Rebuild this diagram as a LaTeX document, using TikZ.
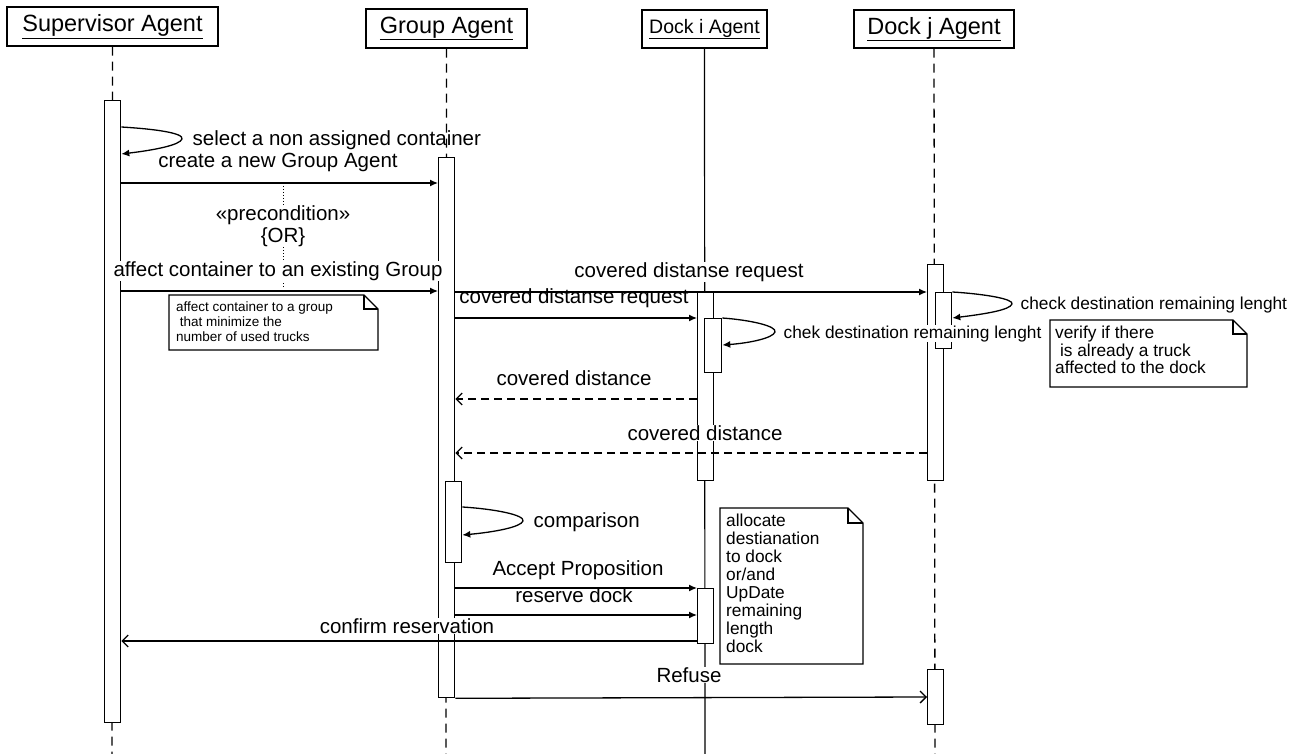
\documentclass[tikz,border=0pt]{standalone}
\usepackage{fontspec}
\setmainfont{Liberation Sans}
\usetikzlibrary{arrows.meta}
\newcommand{\hdfont}{\fontsize{23.5}{26}\selectfont}
\newcommand{\hdsmall}{\fontsize{19.5}{22}\selectfont}
\newcommand{\msgfont}{\fontsize{20.5}{24}\selectfont}
\newcommand{\lblfont}{\fontsize{17.3}{20}\selectfont}
\newcommand{\notefontA}{\fontsize{13.5}{14.6}\selectfont}
\newcommand{\notefontB}{\fontsize{17.3}{17.6}\selectfont}
\newcommand{\notefontC}{\fontsize{17.3}{18}\selectfont}
\begin{document}
\begin{tikzpicture}[x=1pt,y=-1pt,
  head/.style={draw, line width=1.4pt, inner sep=0pt, fill=white},
  act/.style={draw, fill=white, line width=1.3pt, inner sep=0pt, minimum width=16pt, anchor=north west},
  msg/.style={font=\msgfont, inner sep=0.5pt, anchor=base, fill=white},
  msgclear/.style={font=\msgfont, inner sep=0.5pt, anchor=base},
  lbl/.style={font=\lblfont, inner sep=0.5pt, anchor=base west, fill=white},
  call/.style={line width=1.3pt, -{Latex[length=8pt,width=7pt]}},
  ret/.style={line width=1.3pt, dash pattern=on 8pt off 5pt, -{Straight Barb[length=6pt,width=12pt]}},
  reply/.style={line width=1.3pt, -{Straight Barb[length=6pt,width=12pt]}},
  life/.style={line width=1.3pt, dash pattern=on 9pt off 6pt},
  solidlife/.style={line width=1.2pt},
  notebox/.style={line width=1.3pt, fill=white},
  notetext/.style={inner sep=0pt, anchor=north west, align=left}
]
\useasboundingbox (0,0) rectangle (1298,754);

% headers
\node[head, minimum width=211pt, minimum height=39pt] (hS) at (112.5,26.5) {\hdfont\underline{Supervisor Agent}};
\node[head, minimum width=161pt, minimum height=39pt] (hG) at (446.5,28.5) {\hdfont\underline{Group Agent}};
\node[head, minimum width=125pt, minimum height=38pt] (hI) at (704.5,29) {\hdsmall\underline{Dock i Agent}};
\node[head, minimum width=160pt, minimum height=38pt] (hJ) at (934,29) {\hdfont\underline{Dock j Agent}};

% lifeline ends
\coordinate (eS) at (112,754);
\coordinate (eG) at (446,754);
\coordinate (eI) at (705,754);
\coordinate (eJ) at (935,754);

% lifelines
\draw[life] (hS.south) -- (eS);
\draw[life] (hG.south) -- (eG);
\draw[solidlife] (hI.south) -- (eI);
\draw[life] (hJ.south) -- (eJ);

% activations
\node[act, minimum height=622pt] (actS) at (104,100) {};
\node[act, minimum height=540pt] (actG) at (438,157) {};
\node[act, minimum height=81pt] (actGn) at (445,481) {};
\node[act, minimum height=189pt] (actI) at (697,291) {};
\node[act, minimum height=54pt, minimum width=17pt] (actIn) at (704,318) {};
\node[act, minimum height=216pt] (actJ) at (927,264) {};
\node[act, minimum height=56pt] (actJn) at (935,292) {};
\node[act, minimum height=55pt] (actI2) at (697,588) {};
\node[act, minimum height=55pt] (actJ2) at (927,669) {};

% self messages
\draw[call] (actS.east |- 0,127) .. controls (155,129) and (184,133) .. (182,139)
   .. controls (180,145) and (155,150) .. (actS.east |- 0,154);
\draw[call] (actIn.east |- 0,318) .. controls (750,320) and (777,326) .. (775,332)
   .. controls (773,338) and (750,343) .. (actIn.east |- 0,345);
\draw[call] (actJn.east |- 0,292) .. controls (985,294) and (1014,299) .. (1012,304)
   .. controls (1010,310) and (985,314) .. (actJn.east |- 0,318);
\draw[call] (actGn.east |- 0,507) .. controls (495,509) and (525,515) .. (523,521)
   .. controls (521,527) and (495,532) .. (actGn.east |- 0,535);

% messages
\draw[call] (actS.east |- 0,183) -- (actG.west |- 0,183);
\draw[call] (actS.east |- 0,291) -- (actG.west |- 0,291);
\draw[call] (actG.east |- 0,292) -- (actJ.west |- 0,292);
\draw[call] (actG.east |- 0,318) -- (actI.west |- 0,318);
\draw[ret] (actI.west |- 0,399) -- (actG.east |- 0,399);
\draw[ret] (actJ.west |- 0,453) -- (actG.east |- 0,453);
\draw[call] (actG.east |- 0,588) -- (actI2.north west);
\draw[call] (actG.east |- 0,615) -- (actI2.west |- 0,615);
\draw[reply] (actI2.west |- 0,641) -- (actS.east |- 0,641);
\draw[reply] (actG.south east) -- (actJ2.west |- 0,697);

% precondition
\coordinate (d1) at (283,186);
\coordinate (d2) at (283,288);
\node[font=\msgfont, inner sep=0pt, anchor=base] (pre) at (283,220) {«precondition»};
\node[font=\msgfont, inner sep=0pt, anchor=base] (orn) at (283,243) {\{OR\}};
\draw[line width=1pt, dotted] (d1) -- (pre.north);
\draw[line width=1pt, dotted] (orn.south) -- (d2);

% labels
\node[font=\msgfont, inner sep=0.5pt, anchor=base west] (l1) at (192,146) {select a non assigned container};
\node[msg] (l2) at (278,168) {create a new Group Agent};
\node[msg] (l3) at (278,276) {affect container to an existing Group};
\node[msg] (l4) at (689,277) {covered distanse request};
\node[msgclear] (l5) at (574,303) {covered distanse request};
\node[lbl] (l6) at (783,338) {chek destination remaining lenght};
\node[lbl] (l7) at (1020,309) {check destination remaining lenght};
\node[msg] (l8) at (574,385) {covered distance};
\node[msg] (l9) at (705,440) {covered distance};
\node[font=\msgfont, inner sep=0.5pt, anchor=base west] (l10) at (533,527) {comparison};
\node[msg] (l11) at (578,575) {Accept Proposition};
\node[msgclear] (l12) at (574,602) {reserve dock};
\node[msg] (l13) at (407,633) {confirm reservation};
\node[msg] (l14) at (689,682) {Refuse};

% notes
\draw[notebox] (169,295) -- (364,295) -- (378,309) -- (378,350) -- (169,350) -- cycle;
\draw[line width=1.3pt] (364,295) -- (364,309) -- (378,309);
\node[notetext, font=\notefontA] (n1) at (176,302) {affect container to a group\\\ that minimize the\\number of used trucks};

\draw[notebox] (1050,320) -- (1233,320) -- (1247,334) -- (1247,387) -- (1050,387) -- cycle;
\draw[line width=1.3pt] (1233,320) -- (1233,334) -- (1247,334);
\node[notetext, font=\notefontB] (n2) at (1055,326) {verify if there\\\ is already a truck\\affected to the dock};

\draw[notebox] (720,508) -- (848,508) -- (863,523) -- (863,664) -- (720,664) -- cycle;
\draw[line width=1.3pt] (848,508) -- (848,523) -- (863,523);
\node[notetext, font=\notefontC] (n3) at (726,514) {allocate\\destianation\\to dock\\or/and\\UpDate\\remaining\\length\\dock};
\end{tikzpicture}
\end{document}
